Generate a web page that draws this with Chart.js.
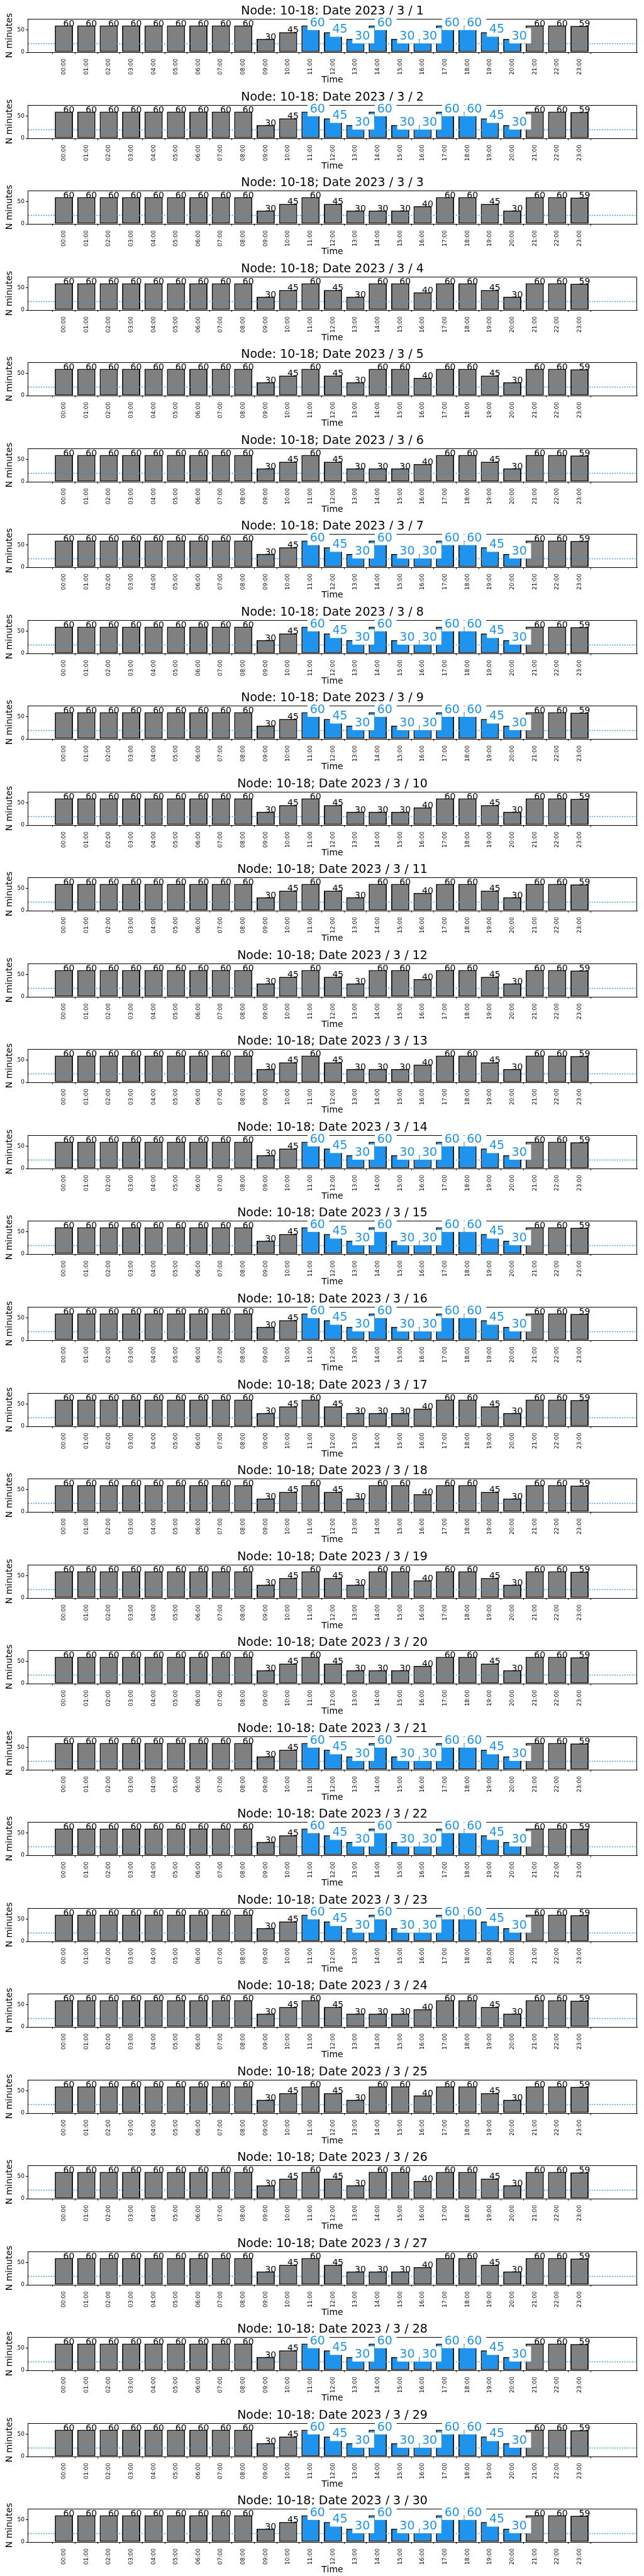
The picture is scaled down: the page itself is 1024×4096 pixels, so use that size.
<!DOCTYPE html>
<html>
<head>
<meta charset="utf-8">
<script src="https://cdn.jsdelivr.net/npm/chart.js@4"></script>
<style>
  html, body { margin: 0; padding: 0; background: #fff; }
  #wrap { position: relative; width: 1024px; height: 4096px; overflow: hidden; }
  #wrap canvas { position: absolute; left: 0; }
</style>
</head>
<body>
<div id="wrap"></div>
<script>
// hourly minutes per node, March 2023
const hourLabels = ['00:00','01:00','02:00','03:00','04:00','05:00','06:00','07:00','08:00','09:00','10:00','11:00',
  '12:00','13:00','14:00','15:00','16:00','17:00','18:00','19:00','20:00','21:00','22:00','23:00'];
const minutesTueToThu = [60,60,60,60,60,60,60,60,60,30,45,60,45,30,60,30,30,60,60,45,30,60,60,59];
const minutesMonFri   = [60,60,60,60,60,60,60,60,60,30,45,60,45,30,30,30,40,60,60,45,30,60,60,59];
const minutesWeekend  = [60,60,60,60,60,60,60,60,60,30,45,60,45,30,60,60,40,60,60,45,30,60,60,59];
const days = [1,2,3,4,5,6,7,8,9,10,11,12,13,14,15,16,17,18,19,20,21,22,23,24,25,26,27,28,29,30];
const dayKinds = ['mid','mid','edge','wknd','wknd','edge','mid','mid','mid','edge','wknd','wknd','edge','mid','mid',
  'mid','edge','wknd','wknd','edge','mid','mid','mid','edge','wknd','wknd','edge','mid','mid','mid'];
const highlightHours = ['11:00','12:00','13:00','14:00','15:00','16:00','17:00','18:00','19:00','20:00'];
const yTickValues = [0, 50];
const thresholdMinutes = 20;
const yMax = 75;
const xRange = [-1.05, 25];

const BLUE = '#1e94ef';
const GREY = '#808080';
const seriesByKind = { mid: minutesTueToThu, edge: minutesMonFri, wknd: minutesWeekend };

Chart.defaults.font.family = '"DejaVu Sans", sans-serif';
Chart.defaults.color = '#000';

const panelDecor = {
  id: 'panelDecor',
  beforeDatasetsDraw(chart) {
    const { ctx, chartArea: a } = chart;
    ctx.save();
    ctx.strokeStyle = '#000';
    ctx.lineWidth = 1;
    ctx.beginPath();
    ctx.moveTo(a.left, a.top + 0.5);
    ctx.lineTo(a.right - 0.5, a.top + 0.5);
    ctx.lineTo(a.right - 0.5, a.bottom);
    ctx.stroke();
    ctx.restore();
  },
  afterDatasetsDraw(chart) {
    const { ctx, chartArea: a } = chart;
    // threshold line, dotted, over the bars
    const ty = Math.round(chart.scales.y.getPixelForValue(thresholdMinutes)) + 0.5;
    ctx.save();
    ctx.strokeStyle = BLUE;
    ctx.lineWidth = 1.6;
    ctx.setLineDash([1.6, 2.4]);
    ctx.beginPath();
    ctx.moveTo(a.left + 1, ty);
    ctx.lineTo(a.right - 1, ty);
    ctx.stroke();
    ctx.restore();

    const ds = chart.data.datasets[0];
    const meta = chart.getDatasetMeta(0);
    ctx.save();
    ctx.textAlign = 'left';
    ctx.textBaseline = 'alphabetic';
    meta.data.forEach((bar, i) => {
      const txt = String(ds.data[i].y);
      const hi = ds.highlight[i];
      const fs = hi ? 19 : 14;
      ctx.font = fs + 'px "DejaVu Sans"';
      if (hi) {
        const w = ctx.measureText(txt).width;
        ctx.fillStyle = '#fff';
        ctx.fillRect(bar.x - 0.25 * fs, bar.y - 0.9 * fs, w + 0.55 * fs, 1.28 * fs);
        ctx.fillStyle = BLUE;
      } else {
        ctx.fillStyle = '#000';
      }
      ctx.fillText(txt, bar.x - 1, bar.y + 1);
    });
    ctx.restore();
  }
};

const wrap = document.getElementById('wrap');
const panelH = 4096 / days.length;

days.forEach((day, d) => {
  const canvas = document.createElement('canvas');
  canvas.width = 1024;
  canvas.height = 137;
  canvas.style.top = Math.round(d * panelH) + 'px';
  wrap.appendChild(canvas);

  const kind = dayKinds[d];
  const values = seriesByKind[kind];
  const highlight = hourLabels.map(h => kind === 'mid' && highlightHours.includes(h));

  new Chart(canvas.getContext('2d'), {
    type: 'bar',
    data: {
      datasets: [{
        data: hourLabels.map((h, i) => ({ x: i, y: values[i] })),
        highlight,
        backgroundColor: highlight.map(b => b ? BLUE : GREY),
        borderColor: '#111',
        borderWidth: 2,
        borderSkipped: false,
        barPercentage: 0.81,
        categoryPercentage: 1
      }]
    },
    options: {
      responsive: false,
      animation: false,
      devicePixelRatio: 1,
      layout: { padding: { left: 0, right: 11, top: 0, bottom: 0 } },
      plugins: {
        legend: { display: false },
        tooltip: { enabled: false },
        title: {
          display: true,
          fullSize: false,
          text: 'Node: 10-18; Date 2023 / 3 / ' + day,
          color: '#000',
          font: { size: 19, weight: 'normal' },
          padding: { top: 6.6, bottom: 0.6 }
        }
      },
      scales: {
        x: {
          type: 'linear',
          min: xRange[0],
          max: xRange[1],
          afterBuildTicks: s => { s.ticks = hourLabels.map((h, i) => ({ value: i })); },
          afterFit: s => { s.height = 54; },
          ticks: {
            autoSkip: false, minRotation: 90, maxRotation: 90, padding: 7,
            font: { size: 9 }, callback: v => hourLabels[v]
          },
          grid: { drawOnChartArea: false, drawTicks: true, tickLength: 3, tickColor: '#000' },
          border: { color: '#000', width: 1 },
          title: { display: true, text: 'Time', font: { size: 14 }, padding: { top: 0, bottom: 1 } }
        },
        y: {
          min: 0,
          max: yMax,
          afterBuildTicks: s => { s.ticks = yTickValues.map(v => ({ value: v })); },
          afterFit: s => { s.width = 44; },
          ticks: { font: { size: 9 }, padding: 2 },
          grid: { drawOnChartArea: false, drawTicks: true, tickLength: 3, tickColor: '#000' },
          border: { color: '#000', width: 1 },
          title: { display: true, text: 'N minutes', font: { size: 14 }, padding: { top: 7, bottom: 0 } }
        }
      }
    },
    plugins: [panelDecor]
  });
});
</script>
</body>
</html>
